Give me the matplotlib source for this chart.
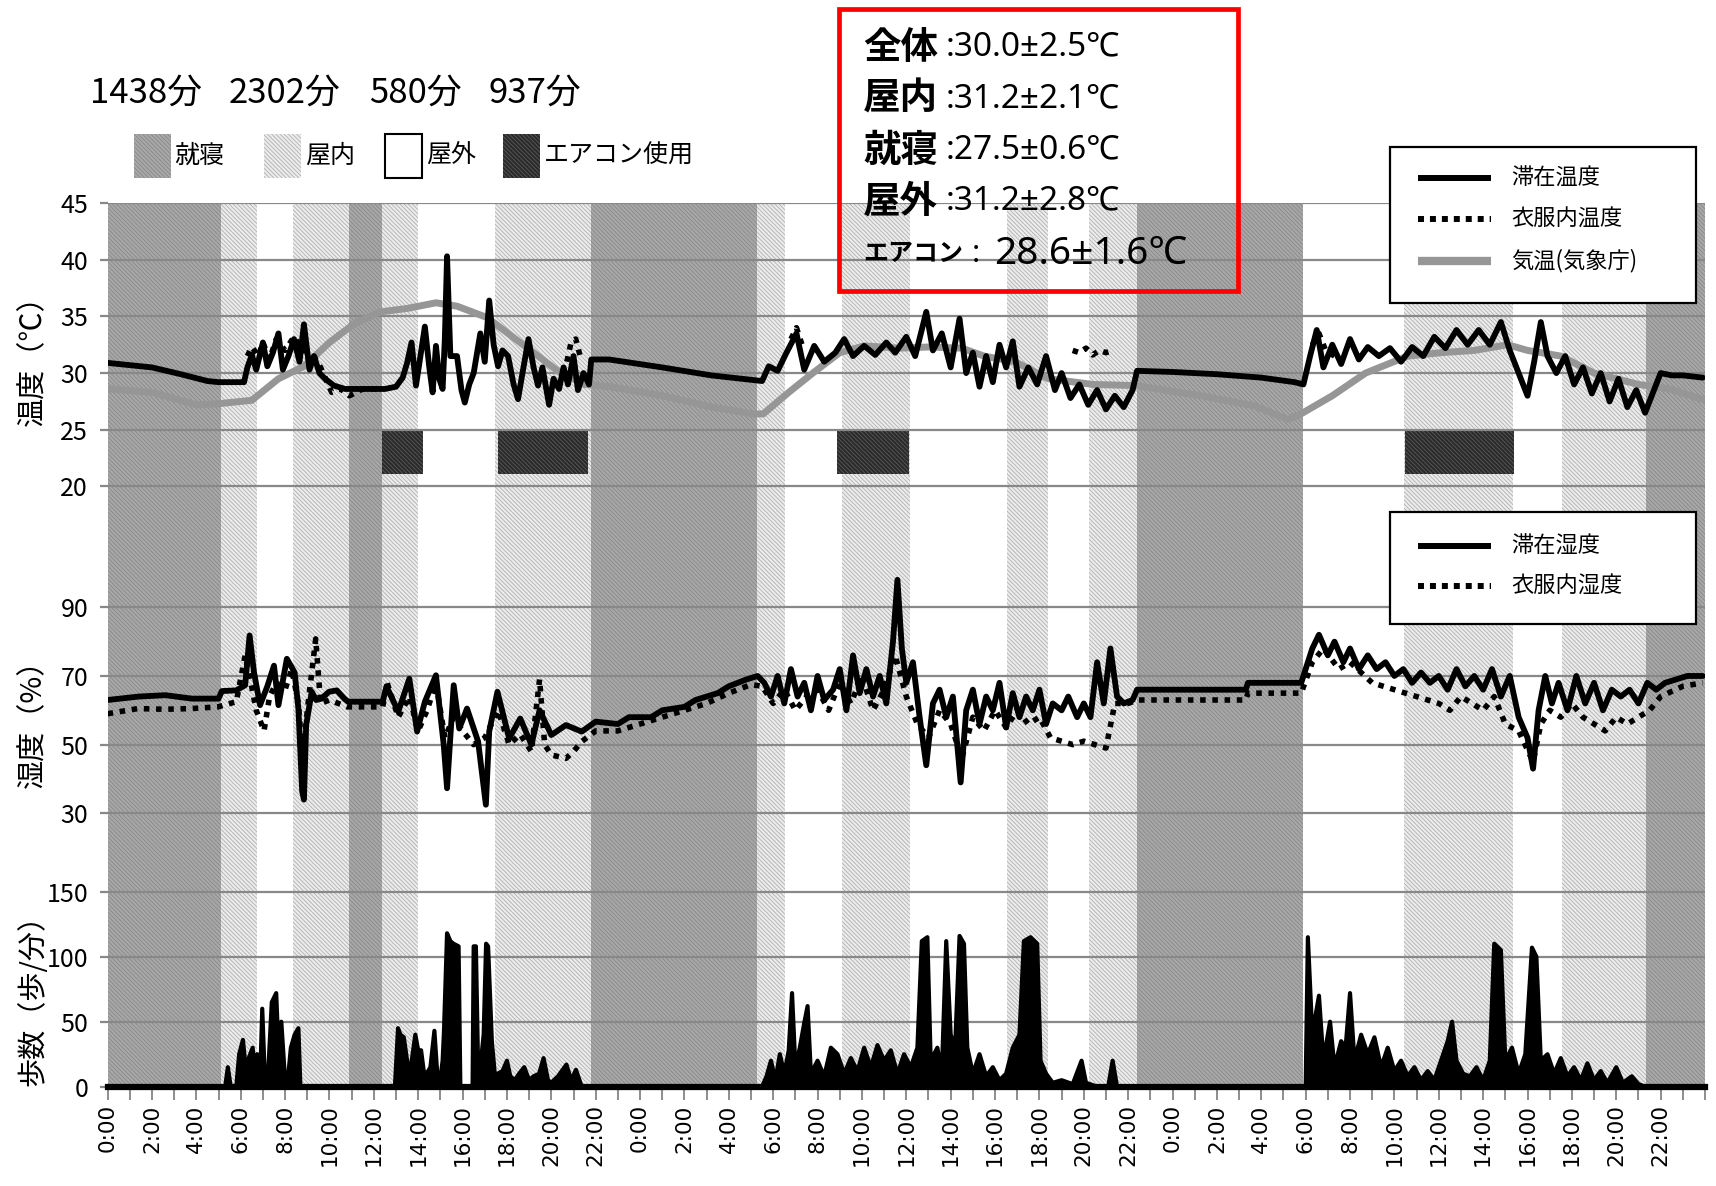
import numpy as np
import matplotlib.pyplot as plt
from matplotlib.patches import Rectangle
from matplotlib.lines import Line2D

plt.rcParams['font.family'] = ['Noto Sans CJK JP', 'DejaVu Sans']
plt.rcParams['hatch.linewidth'] = 0.6

# ---- activity bands (hours from day 1 0:00) ----
band_start = [0, 5.12, 6.74, 8.36, 10.88, 12.36, 14.0, 17.44, 21.8, 29.29, 30.53,
              33.12, 36.18, 40.54, 42.4, 44.22, 46.4, 53.9, 58.43, 63.35, 65.55, 69.35]
band_end = [5.12, 6.74, 8.36, 10.88, 12.36, 14.0, 17.44, 21.8, 29.29, 30.53, 33.12,
            36.18, 40.54, 42.4, 44.22, 46.4, 53.9, 58.43, 63.35, 65.55, 69.35, 72.0]
band_kind = ['就寝', '屋内', '屋外', '屋内', '就寝', '屋内', '屋外', '屋内', '就寝', '屋内', '屋外',
             '屋内', '屋外', '屋内', '屋外', '屋内', '就寝', '屋外', '屋内', '屋外', '屋内', '就寝']

# air conditioner periods
ac_start = [12.36, 17.6, 32.88, 58.5]
ac_end = [14.2, 21.66, 36.1, 63.4]

# ---- temperature ----
stay_temp_h = [0, 2.0, 3.3, 4.5, 5.0, 6.15, 6.3, 6.5, 6.7, 7.0, 7.2, 7.45, 7.7, 7.9, 8.15,
               8.4, 8.65, 8.85, 9.1, 9.3, 9.55, 9.8, 10.2, 10.7, 11.2, 11.6, 12.5, 13.0, 13.3,
               13.5, 13.7, 13.9, 14.1, 14.3, 14.5, 14.65, 14.8, 14.95, 15.1, 15.2, 15.3, 15.45,
               15.75, 15.95, 16.1, 16.3, 16.5, 16.8, 17.0, 17.2, 17.4, 17.6, 17.8, 18.05, 18.3,
               18.5, 18.7, 18.97, 19.2, 19.4, 19.6, 19.9, 20.1, 20.35, 20.55, 20.75, 21.0, 21.2,
               21.45, 21.7, 21.8, 22.6, 25.0, 27.2, 29.5,
               29.8, 30.2, 30.6, 31.05, 31.4, 31.85, 32.3, 32.8, 33.2, 33.6, 34.1, 34.6, 35.1,
               35.5, 36.0, 36.4, 36.9, 37.2, 37.6, 38.0, 38.4, 38.7, 39.0, 39.3, 39.6, 39.9,
               40.2, 40.5, 40.8, 41.1, 41.5, 41.9, 42.3, 42.7, 43.0, 43.4, 43.8, 44.2, 44.6,
               45.0, 45.4, 45.8, 46.2, 46.4, 48.0, 50.0, 52.0, 53.5, 53.9,
               54.2, 54.5, 54.8, 55.2, 55.6, 56.0, 56.4, 56.8, 57.3, 57.8, 58.3, 58.8, 59.3,
               59.8, 60.3, 60.8, 61.3, 61.8, 62.3, 62.8, 63.2, 63.6, 64.0, 64.3, 64.6, 64.9,
               65.3, 65.7, 66.1, 66.5, 66.9, 67.3, 67.7, 68.1, 68.5, 68.9, 69.3, 69.7, 70.0,
               70.5, 71.0, 71.9]
stay_temp = [30.9, 30.5, 29.9, 29.3, 29.2, 29.2, 30.5, 31.6, 30.3, 32.7, 30.6, 31.8, 33.5,
             30.3, 31.5, 33.0, 31.0, 34.3, 30.3, 31.5, 30.0, 29.5, 28.9, 28.6, 28.6, 28.6,
             28.6, 28.8, 29.6, 30.9, 32.7, 28.9, 31.5, 34.1, 30.5, 28.3, 32.4, 29.5, 28.6,
             33.0, 40.3, 31.5, 31.5, 28.5, 27.4, 29.0, 30.0, 33.5, 31.0, 36.4, 32.5, 30.6,
             32.0, 31.5, 29.0, 27.7, 30.0, 33.0, 30.5, 28.9, 30.5, 27.2, 29.5, 28.6, 30.5,
             29.0, 31.5, 28.5, 30.0, 29.0, 31.2, 31.2, 30.5, 29.8, 29.3,
             30.6, 30.2, 31.8, 33.5, 30.3, 32.4, 31.0, 31.8, 33.0, 31.5, 32.4, 31.6, 32.7,
             31.8, 33.2, 31.5, 35.4, 32.0, 33.5, 30.5, 34.8, 30.0, 31.8, 28.8, 31.5, 29.2,
             32.5, 30.5, 32.8, 28.8, 30.5, 29.0, 31.5, 28.5, 30.0, 27.8, 29.0, 27.2, 28.5,
             26.8, 28.0, 27.0, 28.5, 30.2, 30.1, 29.9, 29.6, 29.2, 29.0,
             31.5, 33.8, 30.5, 32.5, 30.8, 33.0, 31.2, 32.3, 31.5, 32.2, 31.0, 32.3, 31.5,
             33.2, 32.2, 33.8, 32.5, 33.8, 32.5, 34.5, 32.0, 30.0, 28.0, 31.0, 34.5, 31.5,
             30.0, 31.5, 29.0, 30.5, 28.2, 30.0, 27.5, 29.5, 27.0, 28.5, 26.5, 28.5, 30.0,
             29.8, 29.8, 29.6]

cloth_temp_h = [6.3, 6.5, 6.8, 7.0, 7.3, 7.6, 8.0, 8.4, 8.8, 9.2, 9.6, 10.1, 10.5, 10.9, 11.5,
                12.4, np.nan, 20.5, 20.7, 20.9, 21.1, 21.3, np.nan, 30.8, 31.05, 31.3, np.nan,
                43.5, 43.8, 44.1, 44.4, 44.7, 45.0, 45.3, np.nan, 54.3, 54.6, 54.9, 55.3]
cloth_temp = [31.5, 32.3, 31.5, 32.7, 31.2, 33.0, 32.0, 33.2, 32.0, 31.8, 30.5, 28.3, 28.6,
              28.0, 28.6, 28.6, np.nan, 30.0, 31.0, 32.8, 33.0, 31.5, np.nan, 33.0, 34.0,
              32.5, np.nan, 32.0, 31.8, 32.2, 31.6, 32.0, 31.8, 32.0, np.nan, 32.5, 33.5,
              32.0, 31.5]

air_temp_h = [0.1, 2.0, 4.0, 5.0, 6.5, 7.7, 8.85, 10.0, 11.15, 12.3, 13.5, 14.8, 15.75, 17.1,
              18.05, 19.2, 20.35, 21.5, 22.65, 25.0, 27.25, 29.1, 29.55, 30.7, 31.85, 33.0,
              34.1, 35.7, 37.0, 38.5, 39.5, 40.9, 42.4, 44.4, 46.3, 49.3, 51.7, 53.2, 53.7,
              55.2, 56.7, 58.6, 60.1, 61.6, 63.1, 64.0, 65.5, 67.0, 69.0, 70.4, 72.0]
air_temp = [28.6, 28.3, 27.2, 27.3, 27.6, 29.5, 30.6, 32.7, 34.4, 35.4, 35.7, 36.2, 35.9,
            34.9, 33.5, 31.8, 30.1, 29.0, 28.8, 28.0, 27.0, 26.4, 26.4, 28.3, 30.1, 31.8,
            32.4, 32.2, 32.3, 32.2, 31.5, 31.0, 29.5, 29.0, 28.9, 28.0, 27.1, 25.9, 26.3,
            28.0, 30.0, 31.5, 31.8, 32.0, 32.5, 32.0, 31.5, 30.0, 29.0, 28.6, 27.6]

# ---- humidity ----
stay_hum_h = [0, 1.4, 2.6, 3.8, 5.0, 5.15, 5.8, 6.2, 6.4, 6.6, 6.87, 7.2, 7.5, 7.7, 8.08,
              8.43, 8.6, 8.77, 8.85, 8.95, 9.2, 9.4, 9.64, 9.98, 10.33, 10.67, 10.84, 12.4,
              12.57, 13.1, 13.6, 13.95, 14.3, 14.8, 15.15, 15.3, 15.6, 15.85, 16.2, 16.7,
              17.05, 17.2, 17.57, 18.1, 18.6, 19.1, 19.47, 20.0, 20.66, 21.37, 22.0,
              23.0, 23.5, 24.5, 25.0, 26.0, 26.5, 27.5, 28.0, 28.8, 29.3,
              29.6, 29.9, 30.2, 30.5, 30.8, 31.1, 31.4, 31.7, 32.0, 32.3, 32.7, 33.0, 33.3,
              33.6, 33.9, 34.2, 34.5, 34.8, 35.1, 35.4, 35.6, 35.8, 36.0, 36.3, 36.6, 36.9,
              37.2, 37.5, 37.8, 38.1, 38.45, 38.7, 39.0, 39.3, 39.6, 39.9, 40.2, 40.5, 40.8,
              41.1, 41.4, 41.7, 42.0, 42.3, 42.6, 43.0, 43.3, 43.7, 44.0, 44.3, 44.6, 44.9,
              45.2, 45.5, 45.8, 46.2, 46.4, 51.3, 51.4, 53.8, 54.0, 54.3, 54.6, 55.0, 55.3,
              55.7, 56.0, 56.4, 56.8, 57.2, 57.6, 58.0, 58.4, 58.8, 59.2, 59.6, 60.0, 60.4,
              60.8, 61.2, 61.6, 62.0, 62.4, 62.8, 63.2, 63.6, 64.0, 64.25, 64.5, 64.8, 65.1,
              65.4, 65.8, 66.2, 66.6, 67.0, 67.4, 67.8, 68.2, 68.6, 69.0, 69.4, 69.8, 70.2,
              70.7, 71.2, 71.9]
stay_hum = [63.0, 64.0, 64.4, 63.4, 63.4, 65.6, 65.8, 67.3, 81.8, 71.0, 61.5, 67.0, 73.0,
            61.5, 75.0, 71.0, 60.5, 36.4, 34.0, 55.7, 65.4, 63.0, 63.4, 65.4, 65.8, 63.4,
            62.5, 62.5, 67.0, 59.6, 69.2, 53.8, 62.5, 70.2, 50.0, 37.3, 67.3, 54.7, 60.5,
            50.9, 32.5, 53.8, 65.4, 51.8, 57.6, 50.0, 60.0, 52.8, 55.7, 53.8, 56.7,
            56.0, 58.0, 58.0, 60.0, 61.0, 63.0, 65.0, 67.0, 69.0, 70.0,
            68, 64, 70, 62, 72, 64, 68, 60, 70, 63, 66, 72, 60, 76, 65, 72, 64, 70, 62, 80,
            98, 78, 68, 74, 58, 44, 62, 66, 58, 64, 39, 60, 66, 56, 64, 60, 68, 55, 65, 58,
            64, 60, 66, 56, 62, 60, 64, 58, 62, 58, 74, 62, 78, 64, 62, 63, 66, 66, 68, 68,
            72, 78, 82, 76, 80, 74, 78, 72, 76, 72, 74, 70, 72, 68, 71, 68, 70, 66, 72, 67,
            70, 66, 72, 64, 70, 58, 52, 43, 60, 70, 62, 68, 60, 70, 62, 68, 60, 66, 64, 66,
            62, 68, 66, 68, 69, 70, 70]

cloth_hum_h = [0, 1.36, 2.57, 3.77, 4.98, 5.8, 6.2, 6.4, 6.7, 7.05, 7.3, 7.6, 8.0, 8.3, 8.6,
               8.8, 9.0, 9.38, 9.6, 10.0, 10.8, 12.4, 12.6, 13.1, 13.6, 14.0, 14.4, 14.8,
               15.2, 15.6, 16.0, 16.5, 17.0, 17.6, 18.1, 18.6, 19.1, 19.47, 19.7, 20.0, 20.66,
               21.0, 21.37, 22, 23, 24, 25, 26, 27, 28, 29, 29.5, 30, 30.5, 31, 31.5, 32,
               32.5, 33, 33.5, 34, 34.5, 35, 35.5, 36, 36.5, 37, 37.5, 38, 38.5, 39, 39.5, 40,
               40.5, 41, 41.5, 42, 42.5, 43, 43.5, 44, 44.5, 45, 45.4, 46, 46.4, 51.3, 51.4,
               53.8, 54.3, 54.8, 55.5, 56, 57, 58, 59, 60, 60.5, 61, 62, 62.5, 63, 63.6,
               64.25, 64.6, 65, 65.5, 66, 66.5, 67, 67.5, 68, 68.5, 69, 69.5, 70, 71, 71.9]
cloth_hum = [59, 60.5, 60.3, 60.5, 61, 62.5, 76, 70, 60, 54, 64, 68, 66, 72, 62, 45, 60, 80.8,
             62, 63, 61, 61, 68, 58, 64, 54, 60, 68, 52, 58, 54, 50, 52, 60, 50, 53, 48, 69,
             50, 47, 46, 48, 50.9, 54, 54, 56, 58, 60, 62, 65, 67.5, 67, 62, 66, 60, 64, 66,
             60, 68, 62, 70, 60, 66, 76, 64, 56, 52, 60, 56, 46, 58, 54, 60, 55, 60, 56, 58,
             52, 51, 50, 51, 50, 49, 62, 62, 63, 63, 65, 65, 74, 78, 72, 74, 68, 66, 64, 62,
             60, 64, 60, 64, 56, 54, 45, 56, 60, 58, 62, 58, 56, 54, 58, 56, 58, 60, 64, 67, 68]

# ---- steps per minute ----
steps_h = [0, 5.3, 5.42, 5.55, 5.8, 5.93, 6.1, 6.25, 6.36, 6.54, 6.65, 6.74, 6.88, 6.97, 7.08,
           7.25, 7.4, 7.6, 7.72, 7.83, 8.0, 8.15, 8.26, 8.43, 8.6, 8.69, 12.95, 13.09, 13.2,
           13.35, 13.5, 13.61, 13.75, 13.87, 14.0, 14.13, 14.25, 14.38, 14.55, 14.73, 14.85,
           14.99, 15.1, 15.16, 15.25, 15.3, 15.45, 15.59, 15.82, 15.9, 16.45, 16.5, 16.6,
           16.7, 16.8, 16.95, 17.06, 17.15, 17.32, 17.45, 17.58, 17.8, 18.0, 18.15, 18.35,
           18.55, 18.78, 19.0, 19.2, 19.45, 19.65, 19.85, 19.99, 20.3, 20.68, 20.9, 21.11,
           21.37, 29.5, 29.7, 29.9, 30.1, 30.3, 30.5, 30.7, 30.85, 31.0, 31.2, 31.4, 31.55,
           31.7, 32.0, 32.3, 32.6, 32.9, 33.2, 33.5, 33.8, 34.1, 34.4, 34.7, 35.0, 35.3,
           35.6, 35.9, 36.2, 36.5, 36.7, 36.95, 37.1, 37.4, 37.6, 37.8, 38.0, 38.2, 38.4,
           38.6, 38.75, 39.0, 39.3, 39.6, 39.9, 40.2, 40.5, 40.8, 41.1, 41.3, 41.6, 41.9,
           42.05, 42.3, 42.6, 43.0, 43.5, 43.9, 44.1, 44.6, 45.1, 45.3, 45.5, 54.0, 54.1,
           54.3, 54.6, 54.8, 55.1, 55.3, 55.6, 55.8, 56.0, 56.2, 56.5, 56.8, 57.1, 57.4,
           57.7, 58.0, 58.3, 58.6, 58.9, 59.2, 59.5, 59.8, 60.1, 60.4, 60.6, 60.8, 61.1,
           61.4, 61.7, 62.0, 62.3, 62.5, 62.8, 63.0, 63.3, 63.6, 63.9, 64.2, 64.4, 64.6,
           64.9, 65.2, 65.5, 65.8, 66.1, 66.4, 66.7, 67.0, 67.3, 67.6, 68.0, 68.3, 68.7,
           69.0, 69.3, 72.0]
steps = [0, 0, 15, 0, 0, 25, 36, 10, 22, 30, 5, 25, 8, 60, 10, 15, 65, 72, 20, 50, 5, 10,
         30, 40, 45, 0, 0, 45, 40, 38, 20, 8, 25, 40, 28, 28, 12, 10, 15, 43, 12, 5, 20, 42,
         90, 118, 112, 110, 108, 0, 0, 108, 108, 15, 15, 40, 110, 108, 35, 10, 10, 12, 20, 8,
         5, 10, 15, 5, 8, 10, 22, 5, 3, 8, 17, 5, 13, 0, 0, 8, 20, 5, 25, 10, 28, 72, 15,
         30, 49, 62, 10, 20, 8, 30, 25, 10, 22, 12, 30, 15, 32, 20, 28, 10, 25, 15, 30, 112,
         115, 20, 30, 10, 112, 40, 30, 116, 110, 30, 10, 25, 8, 15, 5, 10, 30, 40, 112, 115,
         110, 20, 10, 3, 5, 2, 20, 3, 0, 0, 20, 0, 0, 115, 40, 70, 20, 50, 15, 35, 30, 72,
         20, 40, 25, 38, 15, 30, 12, 20, 8, 15, 5, 12, 5, 20, 35, 50, 20, 10, 8, 15, 5, 20,
         110, 105, 20, 30, 10, 25, 107, 100, 20, 25, 10, 22, 8, 15, 5, 18, 5, 12, 3, 15, 3,
         8, 2, 0, 0]

# ---- figure in pixel layout ----
W, H = 1716, 1186
L, R = 107.6, 1705.0
fig = plt.figure(figsize=(W / 100, H / 100), dpi=100)


def make_axes(top, bottom):
    return fig.add_axes([L / W, 1 - bottom / H, (R - L) / W, (bottom - top) / H])


ax_t = make_axes(203, 540)
ax_h = make_axes(540, 860)
ax_s = make_axes(860, 1089)
ax_t.set_ylim(15.28, 45)
ax_h.set_ylim(16.4, 109.6)
ax_s.set_ylim(-1.77, 174.4)

band_style = {
    '就寝': dict(facecolor='#a8a8a8', edgecolor='#888888', hatch='\\' * 8),
    '屋内': dict(facecolor='#ececec', edgecolor='#b0b0b0', hatch='\\' * 8),
    'AC': dict(facecolor='#2a2a2a', edgecolor='#5a5a5a', hatch='\\' * 8),
}

for ax, ticks in ((ax_t, [20, 25, 30, 35, 40, 45]),
                  (ax_h, [30, 50, 70, 90]),
                  (ax_s, [0, 50, 100, 150])):
    ax.set_xlim(0, 72)
    for s, e, k in zip(band_start, band_end, band_kind):
        if k in band_style:
            ax.axvspan(s, e, lw=0, zorder=0.2, **band_style[k])
    ax.set_yticks(ticks)
    ax.yaxis.grid(True, color='#888888', lw=1.6)
    ax.set_axisbelow('line')
    ax.tick_params(axis='y', length=6, width=1.6, color='#888888', labelsize=18, pad=8)
    for sp in ax.spines.values():
        sp.set_visible(False)
    ax.patch.set_alpha(0)

for ax in (ax_t, ax_h):
    ax.tick_params(axis='x', bottom=False, labelbottom=False)

# air conditioner blocks
ax_t.bar(ac_start, 3.9, width=np.array(ac_end) - np.array(ac_start), bottom=21.1,
         align='edge', lw=0, zorder=1, **band_style['AC'])

# temperature lines
ax_t.plot(air_temp_h, air_temp, color='#969696', lw=5, zorder=2, solid_capstyle='round')
ax_t.plot(stay_temp_h, stay_temp, color='black', lw=4.2, zorder=3,
          solid_joinstyle='round', solid_capstyle='round')
ax_t.plot(cloth_temp_h, cloth_temp, color='black', lw=4, ls=(0, (1, 1.2)), zorder=3)

# humidity lines
ax_h.plot(cloth_hum_h, cloth_hum, color='black', lw=4, ls=(0, (1, 1.2)), zorder=3)
ax_h.plot(stay_hum_h, stay_hum, color='black', lw=4.2, zorder=3,
          solid_joinstyle='round', solid_capstyle='round')

# steps
ax_s.fill_between(steps_h, steps, 0, color='black', lw=0, zorder=3)
ax_s.plot(steps_h, steps, color='black', lw=3, zorder=3, clip_on=False)
ax_s.plot([0, 72], [0, 0], color='black', lw=4.5, zorder=3, clip_on=False)

major = np.arange(0, 72, 2)
ax_s.set_xticks(major)
ax_s.set_xticklabels([f'{int(h) % 24}:00' for h in major], rotation=90,
                     fontsize=15.5, family='DejaVu Sans')
ax_s.set_xticks(np.arange(0, 73, 1), minor=True)
ax_s.tick_params(axis='x', which='both', length=8, width=1.2, color='#7a7a7a', pad=3)

# ---- overlay in pixel coordinates ----
ov = fig.add_axes([0, 0, 1, 1])
ov.set_xlim(0, W)
ov.set_ylim(H, 0)
ov.axis('off')
ov.set_zorder(10)
ov.patch.set_alpha(0)

for x, s in zip([90, 229, 369, 488], ['1438分', '2302分', '580分', '937分']):
    ov.text(x, 93, s, fontsize=25, va='center', ha='left')

legend_items = [(133.5, '就寝', band_style['就寝']), (264, '屋内', band_style['屋内']),
                (385, '屋外', dict(facecolor='white', edgecolor='black')),
                (503, 'エアコン使用', band_style['AC'])]
for x, label, st in legend_items:
    lw = 1.5 if label == '屋外' else 0
    ov.add_patch(Rectangle((x, 134), 37, 44, lw=lw, **st))
    ov.text(x + 41, 156, label, fontsize=18, va='center', ha='left')

# summary box
value_font = ['Noto Sans', 'Noto Sans CJK JP', 'DejaVu Sans']
ov.add_patch(Rectangle((839, 9), 399, 282, fill=False, edgecolor='#ff0000', lw=3.4))
summary = [('全体', ':30.0±2.5℃', 47), ('屋内', ':31.2±2.1℃', 98.5),
           ('就寝', ':27.5±0.6℃', 150), ('屋外', ':31.2±2.8℃', 201)]
for lab, val, y in summary:
    ov.text(863, y, lab, fontsize=27, fontweight='bold', va='center', ha='left')
    ov.text(946, y, val, fontsize=24, va='center', ha='left', family=value_font)
ov.text(863, 254, 'エアコン', fontsize=18, fontweight='bold', va='center', ha='left')
ov.text(972, 254, ':', fontsize=22, va='center', ha='left', family=value_font)
ov.text(994, 254, '28.6±1.6℃', fontsize=28, va='center', ha='left', family=value_font)

# axis titles
ov.text(33, 353, '温度（℃）', fontsize=21, rotation=90, va='center', ha='center')
ov.text(33, 716, '湿度（%）', fontsize=21, rotation=90, va='center', ha='center')
ov.text(33, 993, '歩数（歩/分）', fontsize=21, rotation=90, va='center', ha='center')

# series legends


def legend_box(top, bottom, rows):
    ov.add_patch(Rectangle((1390, top), 306, bottom - top, facecolor='white',
                           edgecolor='black', lw=1.6))
    for y, label, kw in rows:
        ov.add_line(Line2D([1418, 1491], [y, y], **kw))
        ov.text(1511, y, label, fontsize=16, va='center', ha='left')


solid = dict(color='black', lw=4.3, solid_capstyle='butt')
dotted = dict(color='black', lw=4.3, ls=(0, (1, 1)), dash_capstyle='butt')
legend_box(147, 303, [(178, '滞在温度', solid), (219, '衣服内温度', dotted),
                      (260.5, '気温(気象庁)', dict(color='#969696', lw=6, solid_capstyle='butt'))])
legend_box(512, 624, [(546, '滞在湿度', solid), (585.5, '衣服内湿度', dotted)])

fig.savefig('out.png', dpi=100)
